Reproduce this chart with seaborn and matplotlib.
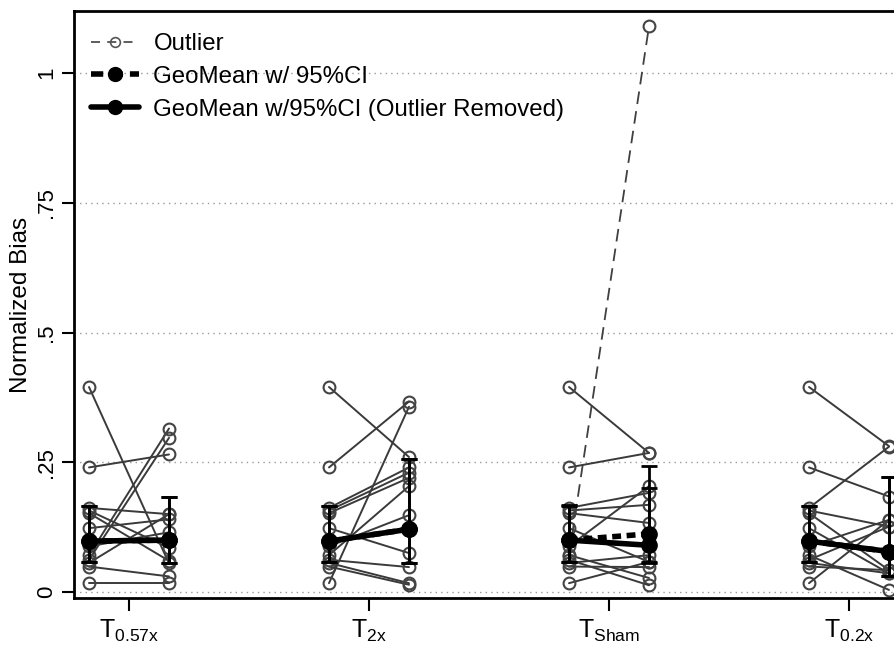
import numpy as np
import pandas as pd
import matplotlib
matplotlib.use("Agg")
import matplotlib.pyplot as plt
import seaborn as sns
from matplotlib.lines import Line2D

# ---------------- data ----------------
groups = ["0.57x", "2x", "Sham", "0.2x"]
subjects = [f"S{i}" for i in range(1, 13)]
pre_vals = [0.395, 0.240, 0.162, 0.157, 0.152, 0.123, 0.088, 0.071, 0.062, 0.056, 0.049, 0.017]
post_057x = [0.055, 0.265, 0.150, 0.085, 0.060, 0.140, 0.115, 0.315, 0.297, 0.150, 0.030, 0.017]
post_2x = [0.260, 0.367, 0.240, 0.230, 0.220, 0.075, 0.148, 0.204, 0.048, 0.017, 0.014, 0.357]
post_sham = [0.268, 0.268, 0.191, 0.168, 0.133, 0.058, 0.204, 0.027, 0.013, 0.071, 0.048, 0.058]
post_02x = [0.281, 0.184, 0.280, 0.126, 0.042, 0.036, 0.139, 0.004, 0.126, 0.036, 0.042, 0.139]
post_by_group = [post_057x, post_2x, post_sham, post_02x]

outlier_group = "Sham"
outlier_pre = 0.070
outlier_post = 1.090

# geometric means with 95% CI (all subjects incl. outlier)
geo_all_pre = [0.098, 0.098, 0.100, 0.098]
geo_all_pre_lo = [0.058, 0.058, 0.058, 0.058]
geo_all_pre_hi = [0.165, 0.165, 0.168, 0.165]
geo_all_post = [0.100, 0.121, 0.112, 0.078]
geo_all_post_lo = [0.056, 0.056, 0.055, 0.030]
geo_all_post_hi = [0.183, 0.256, 0.243, 0.222]
# outlier removed
geo_rm_pre = [0.098, 0.098, 0.100, 0.098]
geo_rm_pre_lo = [0.058, 0.058, 0.058, 0.058]
geo_rm_pre_hi = [0.165, 0.165, 0.165, 0.165]
geo_rm_post = [0.100, 0.121, 0.090, 0.078]
geo_rm_post_lo = [0.056, 0.056, 0.058, 0.030]
geo_rm_post_hi = [0.183, 0.256, 0.200, 0.222]

ytick_vals = [0, 0.25, 0.5, 0.75, 1]
ytick_labels = ["0", ".25", ".5", ".75", "1"]
legend_labels = ["Outlier", "GeoMean w/ 95%CI", "GeoMean w/95%CI (Outlier Removed)"]

# ---------------- style ----------------
sns.set_theme(style="ticks")
plt.rcParams["font.family"] = ["Liberation Sans", "DejaVu Sans"]
plt.rcParams["mathtext.fontset"] = "custom"
plt.rcParams["mathtext.rm"] = "Liberation Sans"
plt.rcParams["mathtext.it"] = "Liberation Sans:italic"
plt.rcParams["mathtext.bf"] = "Liberation Sans:bold"
for k in ["text.color", "axes.labelcolor", "xtick.color", "ytick.color", "axes.edgecolor"]:
    plt.rcParams[k] = "black"

W, H = 894, 650
fig = plt.figure(figsize=(W / 100, H / 100), dpi=100)

left_px, right_px, top_px, bot_px = 74, 1000, 11, 598
ax = fig.add_axes([left_px / W, 1 - bot_px / H, (right_px - left_px) / W, (bot_px - top_px) / H])

OFF = 1 / 6
px_per_unit = 240.0
x_left = 1 - (129 - left_px) / px_per_unit
ax.set_xlim(x_left, x_left + (right_px - left_px) / px_per_unit)
y_pix0, y_pix1 = 592, 73
upp = 1 / (y_pix0 - y_pix1)
ax.set_ylim(-(bot_px - y_pix0) * upp, (y_pix0 - top_px) * upp)

# grid
for v in ytick_vals:
    ax.axhline(v, color="#9a9a9a", lw=1.0, ls=(0, (1, 3)), zorder=0)

# ---------------- subject lines ----------------
rows = []
for gi, (g, post) in enumerate(zip(groups, post_by_group), start=1):
    for s, a, b in zip(subjects, pre_vals, post):
        rows.append({"unit": f"{g}-{s}", "x": gi - OFF, "val": a})
        rows.append({"unit": f"{g}-{s}", "x": gi + OFF, "val": b})
df = pd.DataFrame(rows)

sns.lineplot(data=df, x="x", y="val", units="unit", estimator=None, sort=False,
             color="#3a3a3a", lw=1.4, marker="o", markersize=8.5,
             markerfacecolor="none", markeredgecolor="#444444", markeredgewidth=1.5,
             legend=False, ax=ax, zorder=2)

# outlier
gi_out = groups.index(outlier_group) + 1
odf = pd.DataFrame({"x": [gi_out - OFF, gi_out + OFF], "val": [outlier_pre, outlier_post]})
sns.lineplot(data=odf, x="x", y="val", estimator=None, sort=False, color="#404040",
             lw=1.3, ls=(0, (7, 4)), marker="o", markersize=8.5, markerfacecolor="none",
             markeredgecolor="#444444", markeredgewidth=1.5, legend=False, ax=ax, zorder=2)

# ---------------- geometric means ----------------
def draw_means(pre, pre_lo, pre_hi, post, post_lo, post_hi, ls, z):
    for gi in range(len(groups)):
        xs = [gi + 1 - OFF, gi + 1 + OFF]
        ys = [pre[gi], post[gi]]
        lo = [pre[gi] - pre_lo[gi], post[gi] - post_lo[gi]]
        hi = [pre_hi[gi] - pre[gi], post_hi[gi] - post[gi]]
        ax.errorbar(xs, ys, yerr=[lo, hi], fmt="o", color="black", ms=11,
                    elinewidth=2.0, capsize=6, capthick=2.0, zorder=z)
        ax.plot(xs, ys, color="black", lw=4.0, ls=ls, zorder=z)

draw_means(geo_all_pre, geo_all_pre_lo, geo_all_pre_hi,
           geo_all_post, geo_all_post_lo, geo_all_post_hi, (0, (1.6, 1.0)), 4)
draw_means(geo_rm_pre, geo_rm_pre_lo, geo_rm_pre_hi,
           geo_rm_post, geo_rm_post_lo, geo_rm_post_hi, "-", 5)

# ---------------- axes cosmetics ----------------
ax.set_xticks(range(1, len(groups) + 1))
ax.set_xticklabels([r"$\mathrm{T}_{\mathrm{" + g + "}}$" for g in groups], fontsize=18)
ax.set_yticks(ytick_vals)
ax.set_yticklabels(ytick_labels, rotation=90, va="center", fontsize=16)
ax.tick_params(axis="both", length=9, width=1.5, color="black", direction="out")
ax.tick_params(axis="y", pad=3)
ax.tick_params(axis="x", pad=5)
ax.set_xlabel("")
ax.set_ylabel("Normalized Bias", fontsize=17.5, labelpad=3)
for sp in ax.spines.values():
    sp.set_linewidth(2.0)
    sp.set_color("black")

handles = [
    Line2D([], [], color="#505050", lw=1.3, ls=(0, (5, 4)), marker="o", ms=7,
           mfc="none", mec="#555555", mew=1.2),
    Line2D([], [], color="black", lw=4.0, ls=(0, (2.2, 1.3)), marker="o", ms=10),
    Line2D([], [], color="black", lw=4.0, ls="-", marker="o", ms=10),
]
ax.legend(handles, legend_labels, loc="upper left", bbox_to_anchor=(91 / W, 1 - 33 / H),
          bbox_transform=fig.transFigure, frameon=False, fontsize=17.3, borderpad=0,
          borderaxespad=0, handlelength=2.0, handletextpad=0.6, labelspacing=0.45)

fig.savefig("out.png", dpi=100)
